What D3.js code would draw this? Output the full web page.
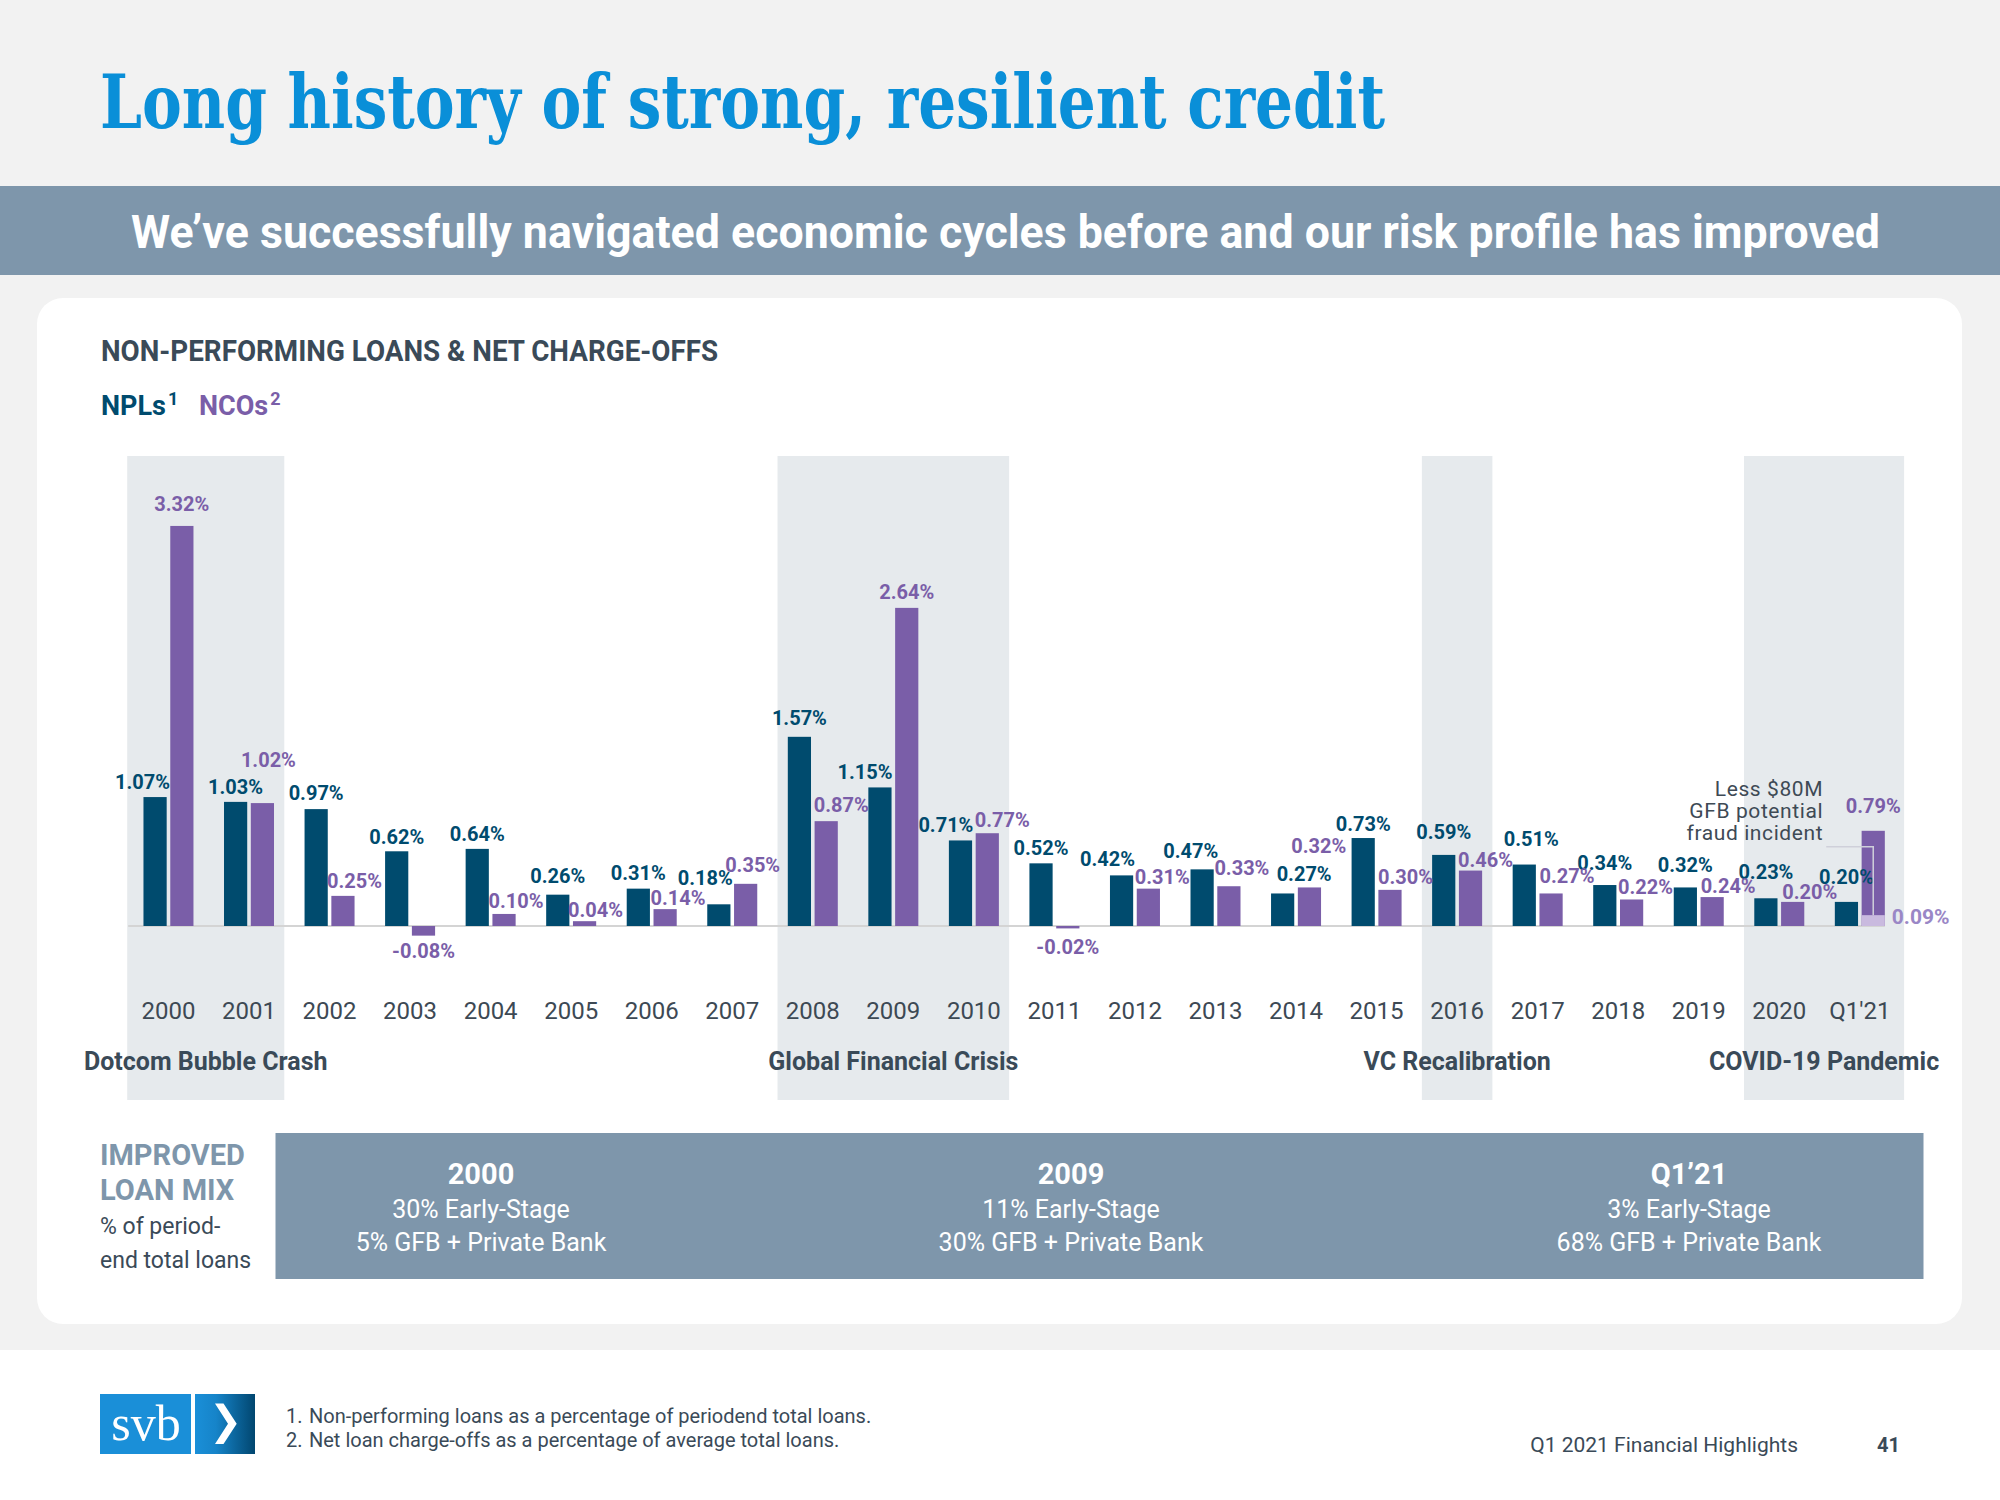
<!DOCTYPE html>
<html><head><meta charset="utf-8">
<script src="https://cdn.jsdelivr.net/npm/d3@7"></script>
<style>
html,body{margin:0;padding:0;background:#f2f2f2;}
svg{display:block;}
text{font-family:Roboto,"Noto Sans",sans-serif;}
</style></head><body>
<svg id="chart" width="2000" height="1500"></svg>
<script>
// ---------------- DATA ----------------
const categories = ["2000","2001","2002","2003","2004","2005","2006","2007","2008","2009","2010","2011","2012","2013","2014","2015","2016","2017","2018","2019","2020","Q1'21"];
const npl = [1.07,1.03,0.97,0.62,0.64,0.26,0.31,0.18,1.57,1.15,0.71,0.52,0.42,0.47,0.27,0.73,0.59,0.51,0.34,0.32,0.23,0.20];
const nco = [3.32,1.02,0.25,-0.08,0.10,0.04,0.14,0.35,0.87,2.64,0.77,-0.02,0.31,0.33,0.32,0.30,0.46,0.27,0.22,0.24,0.20,0.79];
const ncoExFraudCategory = "Q1'21";
const ncoExFraud = 0.09;
const annotationLines = ["Less $80M","GFB potential","fraud incident"];
const periodLabels = ["Dotcom Bubble Crash","Global Financial Crisis","VC Recalibration","COVID-19 Pandemic"];
const periodStart = ["2000","2008","2016","2020"];
const periodEnd = ["2001","2010","2016","Q1'21"];
const mixYears = ["2000","2009","Q1’21"];
const mixEarlyStage = [30,11,3];
const mixGfbPrivate = [5,30,68];
const footnotes = ["Non-performing loans as a percentage of periodend total loans.","Net loan charge-offs as a percentage of average total loans."];

// ---------------- LAYOUT (label nudges, px) ----------------
const nplNudge = [[-12.5,1],[0,1.5],[0,0],[0,2],[0,1],[0,-3],[0,0],[-13.6,-10],[0,-3],[-15,1],[-14.6,1],[0,1],[-14,0],[-11.4,-2],[21.5,-3],[0,1.5],[0,-7],[7,-10],[0,-6],[0,-6],[0,-10],[0,-8.5]];
const ncoNudge = [[0,-5.6],[6,-27],[11.6,1.5],[0,0],[12,3],[11,5],[13,5],[7,-3],[15,0],[0,0],[15,3],[0,3.6],[14,4],[13,-2],[9.4,-25],[15.5,3.5],[15,5],[16,-1],[14,4],[16,5],[17,6],[0,-9]];
const mixColumnX = [481,1071,1689];

const C = {
  npl:"#004b6e", nco:"#7a5ea8", ncoLight:"#c9badf", ncoLightLabel:"#9a87c6",
  band:"#e6eaed", text:"#3a4a58", steel:"#7e96ab", blue:"#0a8fd8"
};

const svg = d3.select("#chart");

// backgrounds
svg.append("rect").attr("width",2000).attr("height",1500).attr("fill","#f2f2f2");
svg.append("rect").attr("y",1350).attr("width",2000).attr("height",150).attr("fill","#ffffff");

// title
svg.append("text").attr("x",100).attr("y",128)
  .attr("fill",C.blue)
  .style("font-family","'DejaVu Serif Condensed','DejaVu Serif',serif")
  .style("font-weight",700).style("font-size","74px")
  .attr("textLength",1285).attr("lengthAdjust","spacingAndGlyphs")
  .text("Long history of strong, resilient credit");

// banner
svg.append("rect").attr("y",186).attr("width",2000).attr("height",89).attr("fill",C.steel);
svg.append("text").attr("x",131).attr("y",248).attr("fill","#ffffff")
  .style("font-weight",700).style("font-size","46px")
  .attr("textLength",1749).attr("lengthAdjust","spacingAndGlyphs")
  .text("We’ve successfully navigated economic cycles before and our risk profile has improved");

// panel
svg.append("rect").attr("x",37).attr("y",298).attr("width",1925).attr("height",1026).attr("rx",26).attr("fill","#ffffff");

// chart header
svg.append("text").attr("x",101).attr("y",361).attr("fill",C.text)
  .style("font-weight",700).style("font-size","30px")
  .attr("textLength",617).attr("lengthAdjust","spacingAndGlyphs")
  .text("NON-PERFORMING LOANS & NET CHARGE-OFFS");

// legend
const leg = svg.append("text").attr("y",415).style("font-weight",700).style("font-size","27px");
leg.append("tspan").attr("x",101).attr("fill",C.npl).text("NPLs");
leg.append("tspan").attr("fill",C.npl).attr("dx",2).attr("dy",-10).style("font-size","18px").text("1");
leg.append("tspan").attr("x",199).attr("dy",10).attr("fill",C.nco).text("NCOs");
leg.append("tspan").attr("fill",C.nco).attr("dx",2).attr("dy",-10).style("font-size","18px").text("2");

// scales
const x = d3.scaleBand().domain(categories).range([128.2, 1900.1]).paddingInner(0).paddingOuter(0);
const xs = d3.scaleBand().domain(["npl","nco"]).range([0, x.bandwidth()]).paddingInner(0.134).paddingOuter(0.57);
const y = d3.scaleLinear().domain([0, 1]).range([926, 805.5]);

// period bands
const bandInset = 5;
const first = categories[0], last = categories[categories.length-1];
const bandsG = svg.append("g");
periodLabels.forEach((lab, i) => {
  const x0 = periodStart[i] === first ? x.range()[0] - 1 : x(periodStart[i]) + bandInset;
  const x1 = periodEnd[i] === last ? x.range()[1] + 4 : x(periodEnd[i]) + x.bandwidth() - bandInset;
  bandsG.append("rect").attr("x",x0).attr("y",456).attr("width",x1-x0).attr("height",644).attr("fill",C.band);
  bandsG.append("text").attr("x",(x0+x1)/2).attr("y",1070).attr("text-anchor","middle")
    .attr("fill",C.text).style("font-weight",700).style("font-size","25px").text(lab);
});

// baseline
const lastI = categories.length-1;
svg.append("line")
  .attr("x1", x.range()[0]).attr("x2", x(categories[lastI]) + xs("nco") + xs.bandwidth())
  .attr("y1", y(0)).attr("y2", y(0)).attr("stroke","#d4d4d4").attr("stroke-width",2);

// bars
const series = [
  {key:"npl", vals:npl, color:C.npl, nudge:nplNudge},
  {key:"nco", vals:nco, color:C.nco, nudge:ncoNudge}
];
series.forEach(s => {
  svg.append("g").selectAll("rect").data(s.vals).join("rect")
    .attr("x", (d,i) => x(categories[i]) + xs(s.key))
    .attr("width", xs.bandwidth())
    .attr("y", d => Math.min(y(d), y(0)))
    .attr("height", d => Math.abs(y(d) - y(0)))
    .attr("fill", s.color);
});
// Q1'21 NCO excluding fraud incident
const exX = x(ncoExFraudCategory) + xs("nco");
svg.append("rect").attr("x",exX).attr("width",xs.bandwidth())
  .attr("y",y(ncoExFraud)).attr("height",y(0)-y(ncoExFraud)).attr("fill",C.ncoLight);

// labels
series.forEach(s => {
  svg.append("g").selectAll("text").data(s.vals).join("text")
    .attr("x", (d,i) => x(categories[i]) + xs(s.key) + xs.bandwidth()/2 + s.nudge[i][0])
    .attr("y", (d,i) => (d >= 0 ? y(d) - 9 : y(d) + 22) + s.nudge[i][1])
    .attr("text-anchor","middle")
    .attr("fill", s.color)
    .style("font-weight",700).style("font-size","20px")
    .text(d => d.toFixed(2) + "%");
});
svg.append("text").attr("x", exX + xs.bandwidth() + 7).attr("y", y(0) - 2)
  .attr("fill",C.ncoLightLabel).style("font-weight",700).style("font-size","21px")
  .text(ncoExFraud.toFixed(2) + "%");

// annotation
const qi = categories.indexOf(ncoExFraudCategory);
const barC = exX + xs.bandwidth()/2;
const annTop = y(nco[qi]);
const annRight = barC - 50;
const annLineY = annTop + 16;
svg.append("path")
  .attr("d", `M${annRight+3},${annLineY}H${barC}V${y(ncoExFraud)}`)
  .attr("fill","none").attr("stroke","#cfd0da").attr("stroke-width",1.5);
const annT = svg.append("text").attr("text-anchor","end").attr("fill","#3e4a55")
  .style("font-size","21px").style("letter-spacing","0.6px");
annotationLines.forEach((t,i) => {
  annT.append("tspan").attr("x",annRight).attr("y",annTop - 35 + i*22).text(t);
});

// x axis year labels
svg.append("g").selectAll("text").data(categories).join("text")
  .attr("x", d => x(d) + x.bandwidth()/2)
  .attr("y", 1019)
  .attr("text-anchor","middle")
  .attr("fill","#3d4954")
  .style("font-size","24px")
  .text(d => d);

// loan mix
svg.append("rect").attr("x",275.5).attr("y",1133).attr("width",1648).attr("height",146).attr("fill",C.steel);
const lm = svg.append("g");
lm.append("text").attr("x",100).attr("y",1165).attr("fill",C.steel).style("font-weight",700).style("font-size","29px").text("IMPROVED");
lm.append("text").attr("x",100).attr("y",1200).attr("fill",C.steel).style("font-weight",700).style("font-size","29px").text("LOAN MIX");
lm.append("text").attr("x",100).attr("y",1234).attr("fill",C.text).style("font-size","23px").text("% of period-");
lm.append("text").attr("x",100).attr("y",1268).attr("fill",C.text).style("font-size","23px").text("end total loans");
mixYears.forEach((yr,i) => {
  const cx = mixColumnX[i];
  lm.append("text").attr("x",cx).attr("y",1184).attr("text-anchor","middle").attr("fill","#fff")
    .style("font-weight",700).style("font-size","29px").text(yr);
  lm.append("text").attr("x",cx).attr("y",1218).attr("text-anchor","middle").attr("fill","#fff")
    .style("font-size","25px").text(mixEarlyStage[i] + "% Early-Stage");
  lm.append("text").attr("x",cx).attr("y",1251).attr("text-anchor","middle").attr("fill","#fff")
    .style("font-size","25px").text(mixGfbPrivate[i] + "% GFB + Private Bank");
});

// footer logo
const defs = svg.append("defs");
const gr = defs.append("linearGradient").attr("id","lg").attr("x1","0").attr("x2","1").attr("y1","0").attr("y2","0");
gr.append("stop").attr("offset","0%").attr("stop-color","#1a8fd8");
gr.append("stop").attr("offset","35%").attr("stop-color","#1684c9");
gr.append("stop").attr("offset","100%").attr("stop-color","#01466f");
svg.append("rect").attr("x",100).attr("y",1394).attr("width",91).attr("height",60).attr("fill","#1a8fd8");
svg.append("rect").attr("x",195).attr("y",1394).attr("width",60).attr("height",60).attr("fill","url(#lg)");
svg.append("text").attr("x",146).attr("y",1440).attr("text-anchor","middle").attr("fill","#fff")
  .style("font-family","'Liberation Serif','DejaVu Serif',serif").style("font-size","50px").text("svb");
svg.append("path").attr("d","M215,1403.5H223.5L236.7,1423.7L223.5,1444H215L228,1423.7Z").attr("fill","#fff");

// footnotes
const fn = svg.append("g").attr("fill",C.text).style("font-size","20px");
footnotes.forEach((t,i) => {
  fn.append("text").attr("x",286).attr("y",1423 + i*24).text((i+1) + ".");
  fn.append("text").attr("x",309).attr("y",1423 + i*24).text(t);
});
svg.append("text").attr("x",1798).attr("y",1452).attr("text-anchor","end").attr("fill",C.text).style("font-size","21px").text("Q1 2021 Financial Highlights");
svg.append("text").attr("x",1900).attr("y",1452).attr("text-anchor","end").attr("fill",C.text).style("font-weight",700).style("font-size","20px").text("41");
</script>
</body></html>
